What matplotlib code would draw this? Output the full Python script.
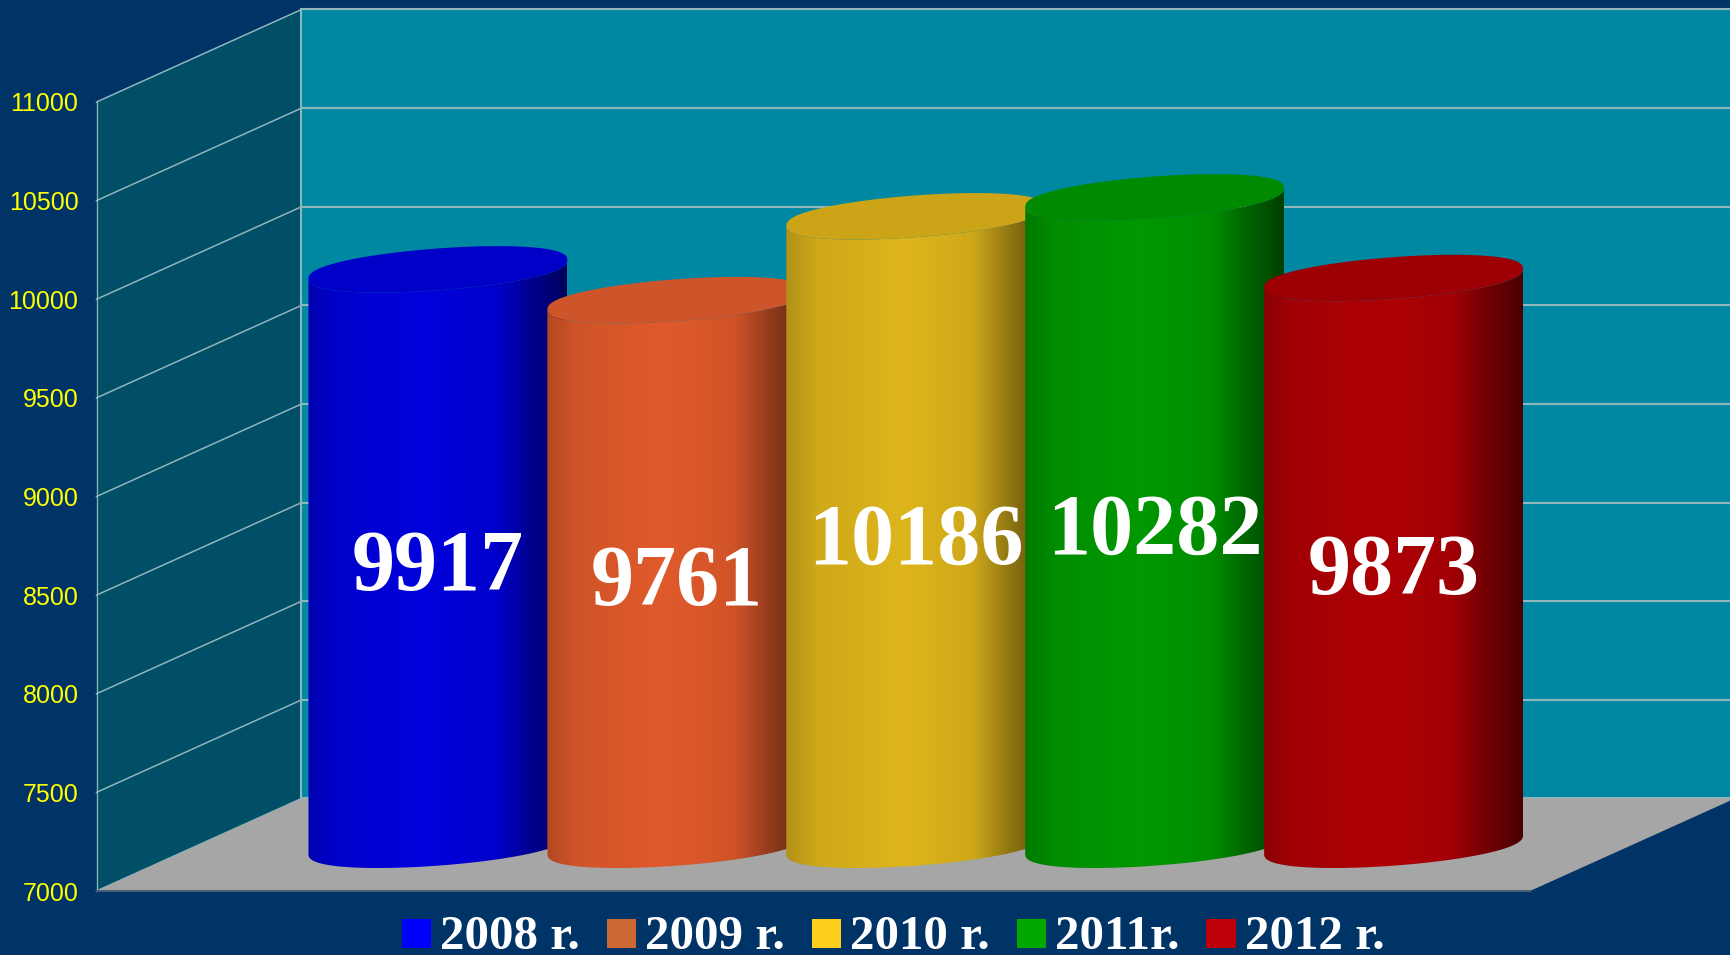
import numpy as np
import matplotlib
matplotlib.use('Agg')
import matplotlib.pyplot as plt
from matplotlib.colors import to_rgb
from matplotlib.legend_handler import HandlerPatch
from matplotlib.patches import Patch, Polygon, Rectangle

years = ['2008 r.', '2009 r.', '2010 r.', '2011r.', '2012 r.']
values = [9917, 9761, 10186, 10282, 9873]
ticks = [7000, 7500, 8000, 8500, 9000, 9500, 10000, 10500, 11000]
side_colors = ['#0000DC', '#E05A2B', '#DEB51C', '#009800', '#AE0006']
cap_colors = ['#0000C8', '#CE552A', '#CBA418', '#008A00', '#9C0004']
legend_colors = ['#0000FF', '#CC6633', '#FFCF1E', '#00A800', '#C00008']

NAVY = '#003366'
WALL = '#0088A3'
SIDE = '#004F66'
FLOOR = '#A6A6A6'
GRID = '#8FB5BD'

# depth of the box, in axis units
depth_x = 205 / 1433.5
depth_v = 92.5 / 789 * 4000
spacing = 1 / 6
half_w = 0.0903
tilt = 48
minor = 106


def swatch(legend, orig_handle, xdescent, ydescent, width, height, fontsize):
    # square sitting just above the text baseline
    return Rectangle((-xdescent, 0.025 * fontsize), width, 0.59 * fontsize)


fig = plt.figure(figsize=(17.3, 9.55), dpi=100, facecolor=NAVY)
ax = fig.add_axes([96.5 / 1730, 64 / 955, 1433.5 / 1730, 789 / 955])
ax.patch.set_visible(False)
for s in ax.spines.values():
    s.set_visible(False)

x0, x1 = -0.5, 0.5
v0, v1 = ticks[0], ticks[-1]

# walls and floor
ax.add_patch(Polygon([[x0 + depth_x, v0 + depth_v], [x1 + depth_x, v0 + depth_v],
                      [x1 + depth_x, v1 + depth_v], [x0 + depth_x, v1 + depth_v]],
                     fc=WALL, ec='none', clip_on=False, zorder=1))
ax.add_patch(Polygon([[x0, v0], [x0 + depth_x, v0 + depth_v],
                      [x0 + depth_x, v1 + depth_v], [x0, v1]],
                     fc=SIDE, ec='none', clip_on=False, zorder=1))

# grid lines run over the side wall and on along the back wall
for t in ticks:
    ax.plot([x0, x0 + depth_x], [t, t + depth_v], color=GRID, lw=1.1, clip_on=False, zorder=1.5)
    ax.plot([x0 + depth_x, x1 + depth_x], [t + depth_v, t + depth_v],
            color=GRID, lw=1.5, clip_on=False, zorder=1.5)
ax.plot([x0, x0], [v0, v1], color=GRID, lw=0.9, clip_on=False, zorder=1.5)
ax.plot([x0 + depth_x, x0 + depth_x], [v0 + depth_v, v1 + depth_v],
        color=GRID, lw=1.5, clip_on=False, zorder=1.5)

ax.add_patch(Polygon([[x0, v0], [x1, v0], [x1 + depth_x, v0 + depth_v], [x0 + depth_x, v0 + depth_v]],
                     fc=FLOOR, ec='none', clip_on=False, zorder=2))
ax.plot([x0, x1], [v0, v0], color='#4A5F73', lw=1.5, clip_on=False, zorder=3)

# cylinders, each one in front of the one to its left
stops = [0, 0.12, 0.45, 0.72, 0.86, 1]
shade = [0.8, 0.93, 1, 0.93, 0.66, 0.42]
u = np.linspace(0, 1, 256)
angle = np.linspace(0, np.pi, 80)
for i, v in enumerate(values):
    cx = (i - 2) * spacing + depth_x / 2
    z = 10 + i * 2
    base = v0 + depth_v / 2
    top = v + depth_v / 2
    ex = half_w * np.cos(angle)
    ey = tilt * np.cos(angle) - minor * np.sin(angle) ** 0.85
    outline = np.vstack([np.column_stack([cx + ex, base + ey]),
                         np.column_stack([cx + ex[::-1], top + ey[::-1]])])
    body = Polygon(outline, fc='none', ec='none', transform=ax.transData, clip_on=False, zorder=z)
    ax.add_patch(body)
    f = np.interp(u, stops, shade)
    strip = np.outer(f, to_rgb(side_colors[i]))[np.newaxis, :, :]
    im = ax.imshow(strip, extent=[cx - half_w, cx + half_w, v0 - 300, v + 900],
                   aspect='auto', interpolation='bilinear', zorder=z, clip_on=True)
    im.set_clip_path(body)
    # top cap: both halves of the same rounded ellipse
    cap_x = np.concatenate([ex, ex[::-1]])
    cap_y = np.concatenate([ey, 2 * tilt * np.cos(angle[::-1]) - ey[::-1]])
    ax.add_patch(Polygon(np.column_stack([cx + cap_x, top + cap_y]),
                         fc=cap_colors[i], ec='none', clip_on=False, zorder=z + 1))
    ax.text(cx, v0 + (v - v0) / 2 + depth_v / 2 - 62, str(v), color='white', ha='center', va='center',
            family='Liberation Serif', weight='bold', fontsize=62, zorder=30)

ax.set_xlim(x0, x1)
ax.set_ylim(v0, v1)
ax.set_xticks([])
ax.set_yticks(ticks)
ax.set_yticklabels([str(t) for t in ticks], color='#FFFF00', family='Liberation Sans', fontsize=18)
ax.tick_params(axis='y', length=0, pad=13)

handles = [Patch(fc=c, ec='none') for c in legend_colors]
fig.legend(handles, years, loc='center', bbox_to_anchor=(893 / 1730, 1 - 937 / 955), ncol=5,
           frameon=False, handlelength=0.6, handleheight=0.7, handletextpad=0.18,
           columnspacing=0.55, borderpad=0, borderaxespad=0,
           handler_map={Patch: HandlerPatch(patch_func=swatch)},
           labelcolor='white', prop={'family': 'Liberation Serif', 'weight': 'bold', 'size': 35.3})

fig.savefig('out.png', dpi=100, facecolor=NAVY)
